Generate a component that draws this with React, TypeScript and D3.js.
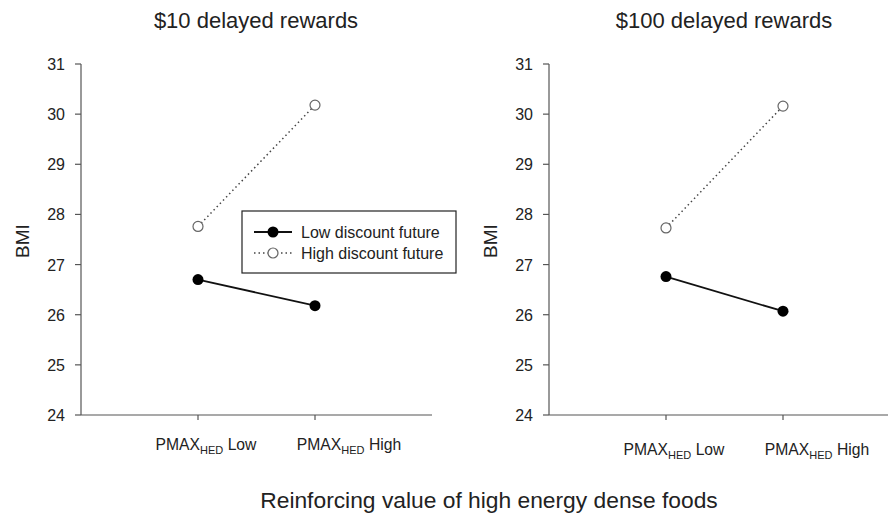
import React from 'react';
import * as d3 from 'd3';

const categories = ['Low', 'High'];
const panelTitles = ['$10 delayed rewards', '$100 delayed rewards'];
const lowDiscount10 = [26.7, 26.18];
const highDiscount10 = [27.76, 30.18];
const lowDiscount100 = [26.76, 26.07];
const highDiscount100 = [27.73, 30.16];
const yTicks = [24, 25, 26, 27, 28, 29, 30, 31];

const W = 888;
const H = 519;
const FONT = '"Liberation Sans", Arial, sans-serif';
// tick labels in the original sit to the right of their ticks
const labelShift = [8, 34];

const y = d3.scaleLinear().domain([24, 31]).range([415, 64]);

const Panel = ({ left, title, low, high, showLegend, labelY }) => {
  // categories sit at 1 and 2 on a 0..3 axis
  const x = d3.scaleLinear().domain([0, 3]).range([left, left + 351]);
  const line = d3.line<number>().x((d, i) => x(i + 1)).y(d => y(d));
  const axisColor = '#555';
  return (
    <g>
      <text x={left + 175} y={28} textAnchor="middle" fontSize={22} fontFamily={FONT} fill="#222">{title}</text>
      <text transform={`translate(${left - 52},241) rotate(-90)`} textAnchor="middle" fontSize={19} fontFamily={FONT} fill="#222">BMI</text>
      <line x1={left} x2={left} y1={y(31)} y2={y(24)} stroke={axisColor} strokeWidth={1.2} />
      <line x1={left} x2={x(3)} y1={y(24)} y2={y(24)} stroke={axisColor} strokeWidth={1.2} />
      {yTicks.map(t => (
        <g key={t}>
          <line x1={left - 6} x2={left} y1={y(t)} y2={y(t)} stroke={axisColor} strokeWidth={1.2} />
          <text x={left - 16} y={y(t) + 6} textAnchor="end" fontSize={16} fontFamily={FONT} fill="#222">{t}</text>
        </g>
      ))}
      {categories.map((c, i) => (
        <g key={c}>
          <line x1={x(i + 1)} x2={x(i + 1)} y1={y(24)} y2={y(24) + 5} stroke={axisColor} strokeWidth={1.2} />
          <text x={x(i + 1) + labelShift[i]} y={labelY} textAnchor="middle" fontSize={15.7} fontFamily={FONT} fill="#222">
            PMAX<tspan fontSize={11} dy={4}>HED</tspan><tspan dy={-4}> {c}</tspan>
          </text>
        </g>
      ))}
      <path d={line(high)} fill="none" stroke="#444" strokeWidth={1.5} strokeDasharray="1.5 3" />
      <path d={line(low)} fill="none" stroke="#111" strokeWidth={1.8} />
      {high.map((v, i) => (
        <circle key={'h' + i} cx={x(i + 1)} cy={y(v)} r={5} fill="#fff" stroke="#666" strokeWidth={1.2} />
      ))}
      {low.map((v, i) => (
        <circle key={'l' + i} cx={x(i + 1)} cy={y(v)} r={5.5} fill="#000" />
      ))}
      {showLegend && (
        <g>
          <rect x={242} y={211} width={214} height={62} fill="#fff" stroke="#222" strokeWidth={1.2} />
          <line x1={254} x2={292} y1={232} y2={232} stroke="#111" strokeWidth={1.8} />
          <circle cx={273} cy={232} r={5.5} fill="#000" />
          <text x={301} y={238} fontSize={16} fontFamily={FONT} fill="#222">Low discount future</text>
          <line x1={254} x2={292} y1={253} y2={253} stroke="#444" strokeWidth={1.5} strokeDasharray="1.5 3" />
          <circle cx={273} cy={253} r={5} fill="#fff" stroke="#666" strokeWidth={1.2} />
          <text x={301} y={259} fontSize={16} fontFamily={FONT} fill="#222">High discount future</text>
        </g>
      )}
    </g>
  );
};

export default function App() {
  return (
    <svg width={W} height={H} style={{ position: 'absolute', left: 0, top: 0, background: '#fff' }}>
      <rect width={W} height={H} fill="#fff" />
      <Panel left={81} title={panelTitles[0]} low={lowDiscount10} high={highDiscount10} showLegend labelY={450} />
      <Panel left={549} title={panelTitles[1]} low={lowDiscount100} high={highDiscount100} showLegend={false} labelY={455} />
      <text x={489} y={508} textAnchor="middle" fontSize={22.8} fontFamily={FONT} fill="#222">Reinforcing value of high energy dense foods</text>
    </svg>
  );
}
